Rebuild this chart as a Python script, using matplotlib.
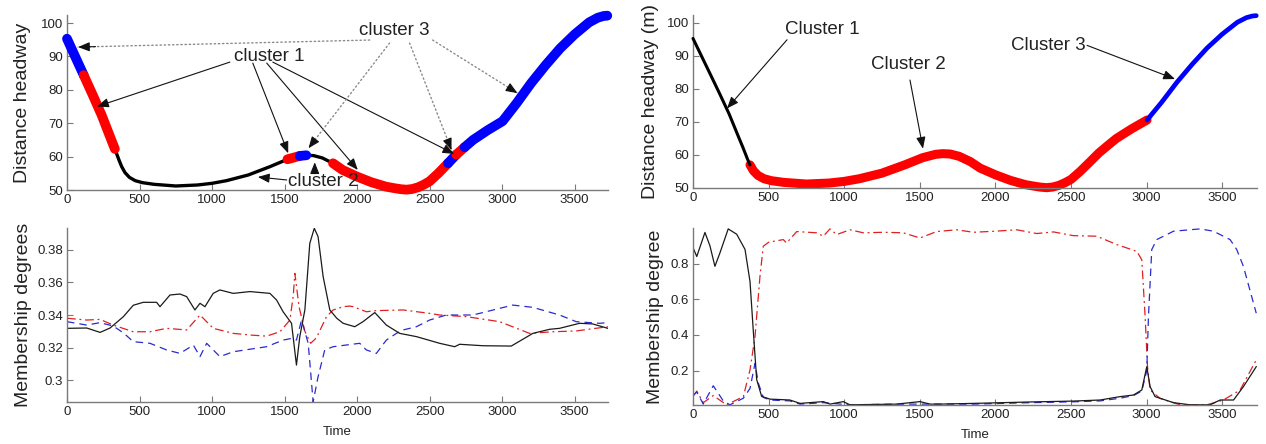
import matplotlib
matplotlib.use("Agg")
import matplotlib.pyplot as plt
import numpy as np

plt.rcParams['font.family'] = ['Liberation Sans', 'DejaVu Sans']

# ---------------- data ----------------
# distance headway (same trajectory in both top panels)
headway_t = [0, 60, 115, 180, 240, 300, 330, 360, 377, 400, 430, 470, 520, 600, 750,
             900, 1000, 1100, 1250, 1400, 1520, 1605, 1650, 1700, 1760, 1834, 1900,
             2000, 2100, 2200, 2250, 2300, 2340, 2380, 2420, 2460, 2500, 2560, 2627,
             2684, 2741, 2800, 2900, 3003, 3100, 3200, 3300, 3400, 3500, 3600, 3660,
             3700, 3725]
headway = [95.3, 89.6, 84.4, 78.2, 72.3, 65.6, 62.3, 58.8, 57.0, 55.2, 53.8, 52.8,
           52.2, 51.7, 51.2, 51.5, 52.0, 52.8, 54.5, 57.0, 59.2, 60.2, 60.4, 60.3,
           59.6, 58.0, 56.0, 54.0, 52.3, 51.0, 50.6, 50.25, 50.1, 50.3, 50.8, 51.6,
           52.6, 55.0, 58.0, 60.6, 62.8, 65.0, 67.9, 70.6, 76.0, 82.0, 87.4, 92.4,
           96.6, 100.2, 101.6, 102.1, 102.2]

# cluster assignment along time (left: FCM-like, right: proposed)
left_bounds = [0, 115, 330, 1520, 1605, 1650, 1834, 2627, 2684, 2741, 3725]
left_clusters = [3, 1, 2, 1, 3, 2, 1, 3, 1, 3]
right_bounds = [0, 377, 3003, 3725]
right_clusters = [1, 2, 3]

# membership degrees, left (three clusters)
mL_black_t = [0, 136, 228, 297, 389, 457, 526, 618, 641, 710, 779, 825, 882, 917, 951,
              1008, 1054, 1146, 1261, 1399, 1445, 1490, 1548, 1582, 1605, 1640, 1674,
              1705, 1731, 1766, 1812, 1860, 1904, 1984, 2041, 2122, 2202, 2294, 2409,
              2569, 2673, 2707, 2868, 3063, 3212, 3327, 3396, 3534, 3625, 3729]
mL_black = [0.3318, 0.3320, 0.3293, 0.3320, 0.3390, 0.3460, 0.3478, 0.3478, 0.3451,
            0.3523, 0.3529, 0.3513, 0.3431, 0.3472, 0.3451, 0.3533, 0.3554, 0.3533,
            0.3544, 0.3533, 0.3492, 0.3420, 0.3349, 0.3092, 0.3267, 0.3431, 0.3841,
            0.3933, 0.3882, 0.3636, 0.3431, 0.3380, 0.3349, 0.3328, 0.3359, 0.3415,
            0.3338, 0.3287, 0.3267, 0.3226, 0.3205, 0.3220, 0.3211, 0.3209, 0.3287,
            0.3312, 0.3318, 0.3349, 0.3345, 0.3318]
mL_red_t = [0, 136, 228, 319, 457, 572, 687, 825, 917, 1008, 1146, 1261, 1376, 1468,
            1537, 1560, 1571, 1600, 1640, 1680, 1720, 1789, 1835, 1904, 1949, 1973,
            2064, 2133, 2317, 2500, 2569, 2753, 2983, 3189, 3350, 3511, 3729]
mL_red = [0.3380, 0.3369, 0.3373, 0.3338, 0.3297, 0.3297, 0.3318, 0.3308, 0.3400,
          0.3318, 0.3287, 0.3277, 0.3270, 0.3297, 0.3369, 0.3520, 0.3656, 0.3450,
          0.3300, 0.3226, 0.3260, 0.3390, 0.3431, 0.3451, 0.3455, 0.3451, 0.3420,
          0.3427, 0.3431, 0.3410, 0.3400, 0.3390, 0.3359, 0.3287, 0.3297, 0.3302, 0.3328]
mL_blue_t = [0, 136, 228, 319, 389, 457, 572, 687, 779, 871, 917, 963, 1054, 1146,
             1376, 1491, 1548, 1582, 1617, 1663, 1697, 1731, 1777, 1835, 2018, 2064,
             2133, 2202, 2271, 2317, 2409, 2500, 2615, 2799, 3074, 3212, 3396, 3511,
             3672, 3729]
mL_blue = [0.3359, 0.3338, 0.3353, 0.3332, 0.3290, 0.3236, 0.3226, 0.3185, 0.3164,
           0.3215, 0.3144, 0.3226, 0.3144, 0.3174, 0.3205, 0.3246, 0.3256, 0.3246,
           0.3369, 0.3226, 0.2866, 0.3020, 0.3185, 0.3205, 0.3226, 0.3185, 0.3164,
           0.3246, 0.3287, 0.3308, 0.3328, 0.3369, 0.3400, 0.3400, 0.3461, 0.3447,
           0.3400, 0.3359, 0.3349, 0.3353]

# membership degrees, right (three clusters)
mR_black_t = [0, 25, 79, 112, 145, 178, 233, 289, 344, 377, 399, 421, 454, 509, 641,
              708, 862, 906, 994, 1038, 1347, 1501, 1568, 1634, 1854, 2229, 2516, 2692,
              2825, 2913, 2968, 3001, 3023, 3056, 3178, 3288, 3420, 3486, 3575, 3640, 3725]
mR_black = [0.890, 0.840, 0.975, 0.900, 0.785, 0.860, 0.995, 0.965, 0.880, 0.700,
            0.420, 0.150, 0.055, 0.040, 0.035, 0.016, 0.026, 0.012, 0.026, 0.008,
            0.012, 0.026, 0.012, 0.012, 0.016, 0.024, 0.029, 0.035, 0.054, 0.063,
            0.091, 0.222, 0.110, 0.054, 0.020, 0.008, 0.008, 0.035, 0.035, 0.110, 0.222]
mR_red_t = [0, 25, 68, 134, 222, 333, 377, 410, 443, 465, 500, 597, 619, 686, 818, 862,
            906, 950, 1038, 1127, 1259, 1391, 1501, 1611, 1744, 1854, 1999, 2141, 2273,
            2384, 2516, 2670, 2803, 2935, 2968, 2990, 3006, 3023, 3089, 3222, 3398,
            3508, 3618, 3725]
mR_red = [0.055, 0.085, 0.020, 0.060, 0.008, 0.054, 0.204, 0.390, 0.730, 0.898, 0.920,
          0.935, 0.916, 0.980, 0.973, 0.954, 0.995, 0.963, 0.990, 0.973, 0.976, 0.973,
          0.944, 0.980, 0.990, 0.976, 0.982, 0.990, 0.969, 0.978, 0.957, 0.954, 0.907,
          0.869, 0.822, 0.504, 0.222, 0.091, 0.044, 0.008, 0.008, 0.035, 0.091, 0.260]
mR_blue_t = [0, 25, 68, 134, 200, 244, 333, 377, 410, 432, 465, 509, 641, 708, 862,
             1038, 1347, 1568, 1854, 2229, 2516, 2692, 2825, 2913, 2968, 3001, 3012,
             3034, 3067, 3178, 3354, 3442, 3552, 3596, 3640, 3725]
mR_blue = [0.060, 0.080, 0.012, 0.115, 0.030, 0.008, 0.045, 0.100, 0.240, 0.130,
           0.050, 0.035, 0.030, 0.012, 0.020, 0.008, 0.012, 0.012, 0.012, 0.020,
           0.025, 0.030, 0.045, 0.060, 0.085, 0.200, 0.500, 0.879, 0.935, 0.982,
           0.995, 0.982, 0.935, 0.879, 0.785, 0.522]

x_ticks = [0, 500, 1000, 1500, 2000, 2500, 3000, 3500]
top_yticks = [50, 60, 70, 80, 90, 100]
bl_yticks = [0.30, 0.32, 0.34, 0.36, 0.38]
bl_yticklabels = ['0.3', '0.32', '0.34', '0.36', '0.38']
br_yticks = [0.2, 0.4, 0.6, 0.8]
br_yticklabels = ['0.2', '0.4', '0.6', '0.8']

# ---------------- figure ----------------
W, H = 1266, 444
fig = plt.figure(figsize=(W / 100, H / 100), dpi=100)


def add_ax(x0, y0, x1, y1):
    return fig.add_axes([x0 / W, 1 - y1 / H, (x1 - x0) / W, (y1 - y0) / H])


SPINE = '#7a7a7a'
TXT = '#222222'


def style(ax, xlim, ylim):
    ax.set_xlim(*xlim)
    ax.set_ylim(*ylim)
    for s in ('top', 'right'):
        ax.spines[s].set_visible(False)
    for s in ('left', 'bottom'):
        ax.spines[s].set_color(SPINE)
        ax.spines[s].set_linewidth(1.0)
    ax.tick_params(direction='in', length=4, width=0.8, color=SPINE,
                   labelsize=9.5, labelcolor=TXT, pad=3)
    ax.set_xticks(x_ticks)
    ax.patch.set_alpha(0)


ax_tl = add_ax(67, 15, 608, 190)
ax_bl = add_ax(67, 228, 608, 402)
ax_tr = add_ax(693, 15, 1257, 188)
ax_br = add_ax(693, 228, 1257, 405)

ht = np.array(headway_t)
hv = np.array(headway)


def draw_segments(ax, bounds, clusters, cmap, wmap):
    for i, c in enumerate(clusters):
        m = (ht >= bounds[i]) & (ht <= bounds[i + 1])
        ax.plot(ht[m], hv[m], color=cmap[c], lw=wmap[c], clip_on=False,
                solid_capstyle='round', solid_joinstyle='round', zorder=2 + (c != 2))


# top-left
draw_segments(ax_tl, left_bounds, left_clusters,
              {1: '#ff0000', 2: '#000000', 3: '#0000ff'}, {1: 7.0, 2: 2.4, 3: 7.0})
style(ax_tl, (0, 3730), (50, 102.4))
ax_tl.set_yticks(top_yticks)
ax_tl.set_ylabel('Distance headway', fontsize=14, color=TXT, va='center')
ax_tl.yaxis.set_label_coords(-0.083, 0.5)

HEAD = '-|>,head_length=0.7,head_width=0.28'
ARW = dict(arrowstyle=HEAD, color='#111111', lw=0.8,
           shrinkA=0, shrinkB=0, mutation_scale=10)
DOT = dict(arrowstyle='-', color='#8a8a8a', lw=1.0,
           linestyle=(0, (1, 2)), shrinkA=0, shrinkB=0)

ax_tl.text(1391, 90.1, 'cluster 1', fontsize=13.5, color=TXT, ha='center', va='center')
for start, tip in [((1123, 88.3), (207, 75.0)), ((1281, 88.0), (1525, 61.0)),
                   ((1377, 88.0), (2005, 56.0)), ((1419, 88.3), (2670, 60.8))]:
    ax_tl.annotate('', xy=tip, xytext=start, arrowprops=ARW, annotation_clip=False)

ax_tl.text(2259, 97.9, 'cluster 3', fontsize=13.5, color=TXT, ha='center', va='center')
for start, tip in [((2087, 94.9), (76, 92.8)), ((2224, 94.0), (1665, 62.5)),
                   ((2362, 94.0), (2651, 62.0)), ((2521, 94.9), (3106, 79.0))]:
    ax_tl.annotate('', xy=tip, xytext=start, arrowprops=DOT, annotation_clip=False)
    near = (tip[0] - 0.06 * (tip[0] - start[0]), tip[1] - 0.06 * (tip[1] - start[1]))
    ax_tl.annotate('', xy=tip, xytext=near, arrowprops=ARW, annotation_clip=False)

ax_tl.text(1770, 52.4, 'cluster 2', fontsize=13.5, color=TXT, ha='center', va='center')
for start, tip in [((1515, 53.0), (1316, 53.9)), ((1708, 54.9), (1708, 58.3))]:
    ax_tl.annotate('', xy=tip, xytext=start, arrowprops=ARW, annotation_clip=False)

# top-right
draw_segments(ax_tr, right_bounds, right_clusters,
              {1: '#000000', 2: '#ff0000', 3: '#0000ff'}, {1: 2.2, 2: 6.5, 3: 3.4})
style(ax_tr, (0, 3730), (50, 102.4))
ax_tr.set_yticks(top_yticks)
ax_tr.set_ylabel('Distance headway (m)', fontsize=14, color=TXT, va='center')
ax_tr.yaxis.set_label_coords(-0.076, 0.5)

ax_tr.text(853, 97.9, 'Cluster 1', fontsize=13.5, color=TXT, ha='center', va='center')
ax_tr.annotate('', xy=(225, 74.1), xytext=(622, 94.9), arrowprops=ARW)
ax_tr.text(1422, 87.5, 'Cluster 2', fontsize=13.5, color=TXT, ha='center', va='center')
ax_tr.annotate('', xy=(1521, 61.9), xytext=(1435, 82.7), arrowprops=ARW)
ax_tr.text(2348, 93.2, 'Cluster 3', fontsize=13.5, color=TXT, ha='center', va='center')
ax_tr.annotate('', xy=(3188, 83.0), xytext=(2606, 93.2), arrowprops=ARW)

# membership line styles
LS_RED = (0, (7, 3, 1.5, 3))
LS_BLUE = (0, (6, 4))

# bottom-left
ax_bl.plot(mL_red_t, mL_red, color='#e02020', lw=0.9, ls=LS_RED)
ax_bl.plot(mL_blue_t, mL_blue, color='#2a2ad0', lw=0.9, ls=LS_BLUE)
ax_bl.plot(mL_black_t, mL_black, color='#1a1a1a', lw=0.9)
style(ax_bl, (0, 3730), (0.2865, 0.3935))
ax_bl.set_yticks(bl_yticks)
ax_bl.set_yticklabels(bl_yticklabels)
ax_bl.set_ylabel('Membership degrees', fontsize=14, color=TXT, va='center')
ax_bl.yaxis.set_label_coords(-0.081, 0.5)
ax_bl.set_xlabel('Time', fontsize=9.5, color=TXT, va='center')
ax_bl.xaxis.set_label_coords(0.5, -0.172)

# bottom-right
ax_br.plot(mR_red_t, mR_red, color='#e02020', lw=0.9, ls=LS_RED)
ax_br.plot(mR_blue_t, mR_blue, color='#2a2ad0', lw=0.9, ls=LS_BLUE)
ax_br.plot(mR_black_t, mR_black, color='#1a1a1a', lw=0.9)
style(ax_br, (0, 3730), (0.007, 1.0))
ax_br.set_yticks(br_yticks)
ax_br.set_yticklabels(br_yticklabels)
ax_br.set_ylabel('Membership degree', fontsize=14, color=TXT, va='center')
ax_br.yaxis.set_label_coords(-0.067, 0.5)
ax_br.set_xlabel('Time', fontsize=9.5, color=TXT, va='center')
ax_br.xaxis.set_label_coords(0.5, -0.169)

fig.savefig('out.png', dpi=100)
